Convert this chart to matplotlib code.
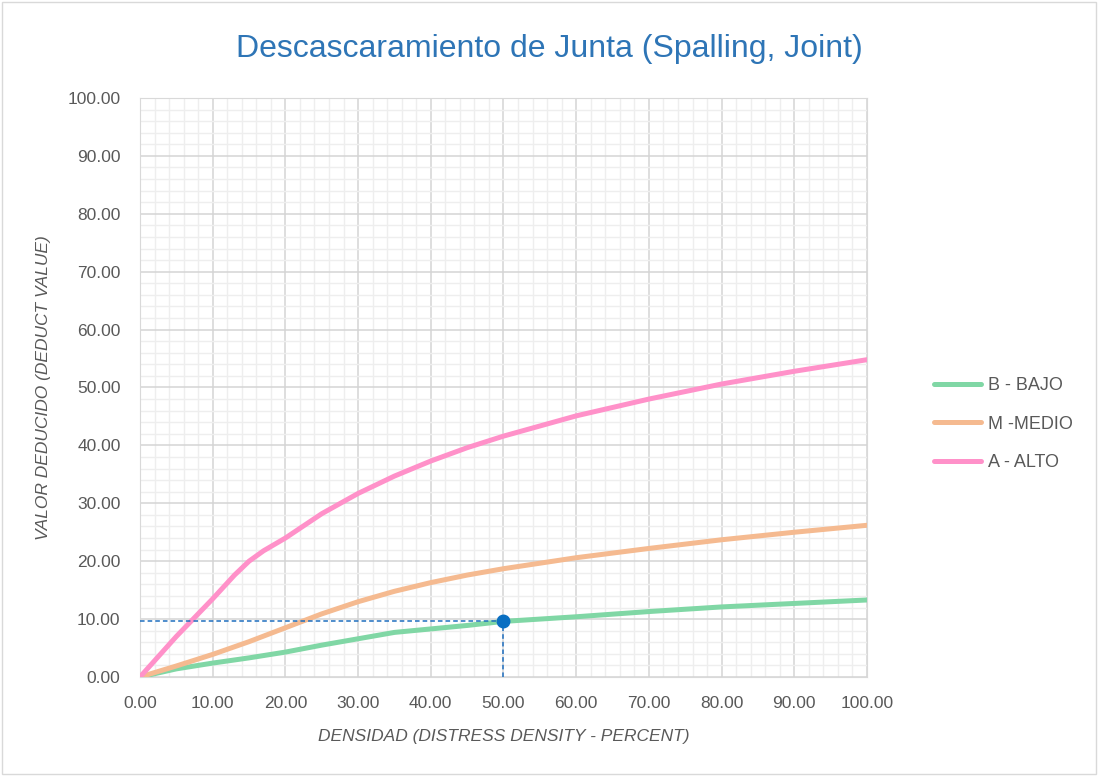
import matplotlib
matplotlib.use('Agg')
import matplotlib.pyplot as plt
from matplotlib.ticker import MultipleLocator, FormatStrFormatter

# densidad (%) y valor deducido
dens = [0, 5, 10, 15, 20, 25, 30, 35, 40, 45, 50, 60, 70, 80, 90, 100]
bajo = [0, 1.4, 2.4, 3.3, 4.3, 5.5, 6.6, 7.7, 8.3, 8.9, 9.6, 10.4, 11.3, 12.1, 12.7, 13.3]
medio = [0, 1.9, 3.9, 6.1, 8.5, 10.9, 13.0, 14.8, 16.3, 17.6, 18.7, 20.6, 22.2, 23.7, 25.0, 26.2]
dens_alto = [0, 5, 10, 13, 15, 17, 20, 25, 30, 35, 40, 45, 50, 60, 70, 80, 90, 100]
alto = [0, 7.0, 13.5, 17.6, 20.0, 21.8, 24.0, 28.2, 31.7, 34.7, 37.3, 39.6, 41.6, 45.1, 48.0, 50.6, 52.8, 54.8]
punto_x, punto_y = 50, 9.6

labels = ['B - BAJO', 'M -MEDIO', 'A - ALTO']
colors = ['#80d7a5', '#f5ba90', '#ff91c9']

plt.rcParams['font.family'] = ['Liberation Sans', 'DejaVu Sans']

fig = plt.figure(figsize=(10.98, 7.76), dpi=100)
ax = fig.add_axes([0.1275, 0.1276, 0.6621, 0.7461])

series = [(dens, bajo), (dens, medio), (dens_alto, alto)]
for (xs, ys), c, lab in zip(series, colors, labels):
    ax.plot(xs, ys, color=c, lw=3.6, label=lab, solid_capstyle='round',
            solid_joinstyle='round', zorder=3)

ax.plot([0, punto_x], [punto_y, punto_y], color='#1f6fbf', lw=1.1, ls=(0, (3, 2)), zorder=4)
ax.plot([punto_x, punto_x], [0, punto_y], color='#1f6fbf', lw=1.1, ls=(0, (3, 2)), zorder=4)
ax.plot([punto_x], [punto_y], 'o', color='#0a6fc2', ms=9, zorder=5)

ax.set_xlim(0, 100)
ax.set_ylim(0, 100)
ax.xaxis.set_major_locator(MultipleLocator(10))
ax.yaxis.set_major_locator(MultipleLocator(10))
ax.xaxis.set_minor_locator(MultipleLocator(2))
ax.yaxis.set_minor_locator(MultipleLocator(2))
ax.xaxis.set_major_formatter(FormatStrFormatter('%.2f'))
ax.yaxis.set_major_formatter(FormatStrFormatter('%.2f'))
ax.grid(which='major', color='#d4d4d4', lw=1.1)
ax.grid(which='minor', color='#eeeeee', lw=1.0)
ax.set_axisbelow(True)
ax.tick_params(which='both', length=0, labelsize=12.5, labelcolor='#595959')
ax.tick_params(axis='x', pad=14)
ax.tick_params(axis='y', pad=14)
for s in ax.spines.values():
    s.set_color('#d9d9d9')

ax.set_xlabel('DENSIDAD (DISTRESS DENSITY - PERCENT)', fontsize=12.5, style='italic',
              color='#595959', labelpad=13)
ax.set_ylabel('VALOR DEDUCIDO (DEDUCT VALUE)', fontsize=12.5, style='italic',
              color='#595959', labelpad=12)

fig.text(0.5, 0.937, 'Descascaramiento de Junta (Spalling, Joint)', ha='center', va='center',
         fontsize=23, color='#2e75b6')

fig.legend(loc='center left', bbox_to_anchor=(0.836, 0.4536), frameon=False, fontsize=13,
           labelcolor='#595959', handlelength=2.6, labelspacing=1.2, handletextpad=0.4)

fig.patches.append(plt.Rectangle((0.002, 0.002), 0.996, 0.996, transform=fig.transFigure,
                                 fill=False, ec='#d9d9d9', lw=1))

fig.savefig('out.png', dpi=100)
